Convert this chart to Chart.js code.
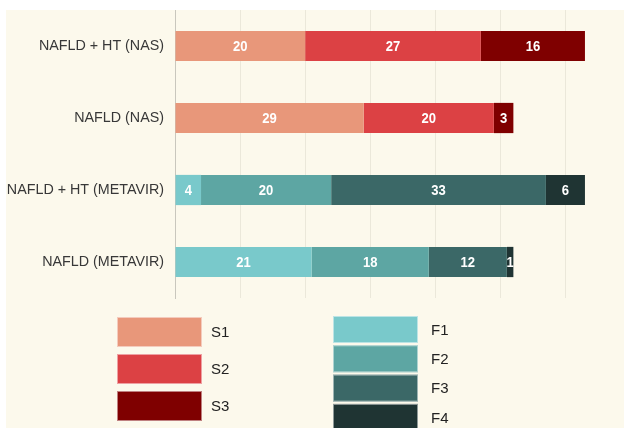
<!DOCTYPE html>
<html>
<head>
<meta charset="utf-8">
<script src="https://cdn.jsdelivr.net/npm/chart.js@4"></script>
<style>
  html, body { margin: 0; padding: 0; background: #ffffff; }
  #wrap { position: relative; width: 624px; height: 428px; }
</style>
</head>
<body>
<div id="wrap"><canvas id="stageChart" width="624" height="428"></canvas></div>
<script>
// --- DATA ---
const categories = ['NAFLD + HT (NAS)', 'NAFLD (NAS)', 'NAFLD + HT (METAVIR)', 'NAFLD (METAVIR)'];
const s1 = [20, 29, null, null];
const s2 = [27, 20, null, null];
const s3 = [16, 3, null, null];
const f1 = [null, null, 4, 21];
const f2 = [null, null, 20, 18];
const f3 = [null, null, 33, 12];
const f4 = [null, null, 6, 1];
const seriesNames = ['S1', 'S2', 'S3', 'F1', 'F2', 'F3', 'F4'];
const seriesValues = [s1, s2, s3, f1, f2, f3, f4];
const seriesColors = ['#e8977a', '#dc4144', '#7f0000', '#79c9cb', '#5da6a3', '#3b6867', '#1f3433'];

// cream panel behind everything
const panelBg = {
    id: 'panelBg',
    beforeDraw(chart) {
        const c = chart.ctx;
        c.save();
        c.fillStyle = '#fcf9ec';
        c.fillRect(6, 10, chart.width - 6, chart.height - 10);
        c.restore();
    }
};

// value labels in the middle of each segment (narrow bold look)
const barValues = {
    id: 'barValues',
    afterDatasetsDraw(chart) {
        const c = chart.ctx;
        chart.data.datasets.forEach((ds, i) => {
            chart.getDatasetMeta(i).data.forEach((bar, j) => {
                const v = ds.data[j];
                if (v === null || v === undefined) return;
                const p = bar.getProps(['x', 'y', 'base'], true);
                c.save();
                c.translate((p.x + p.base) / 2, p.y + 1);
                c.scale(0.9, 1);
                c.fillStyle = '#ffffff';
                c.font = "bold 14.5px 'Liberation Sans', Arial, sans-serif";
                c.textAlign = 'center';
                c.textBaseline = 'middle';
                c.fillText(String(v), 0, 0);
                c.restore();
            });
        });
    }
};

// two-column legend under the plot
const blockLegend = {
    id: 'blockLegend',
    afterDraw(chart) {
        const c = chart.ctx;
        c.save();
        c.font = "15px 'Liberation Sans', Arial, sans-serif";
        c.textBaseline = 'middle';
        c.textAlign = 'left';
        const cols = [
            { idx: [0, 1, 2], x: 117, y: 317, h: 30, step: 37, tx: 211 },
            { idx: [3, 4, 5, 6], x: 333, y: 316, h: 27, step: 29.3, tx: 431 }
        ];
        cols.forEach(col => {
            col.idx.forEach((di, k) => {
                const ds = chart.data.datasets[di];
                const y = col.y + k * col.step;
                c.fillStyle = ds.backgroundColor;
                c.fillRect(col.x, y, 85, col.h);
                c.strokeStyle = 'rgba(255,255,255,0.5)';
                c.lineWidth = 1;
                c.strokeRect(col.x + 0.5, y + 0.5, 84, col.h - 1);
                c.fillStyle = '#222222';
                c.fillText(ds.label, col.tx, y + col.h / 2 + 1);
            });
        });
        c.restore();
    }
};

new Chart(document.getElementById('stageChart'), {
    type: 'bar',
    data: {
        labels: categories,
        datasets: seriesNames.map((name, i) => ({
            label: name,
            data: seriesValues[i],
            backgroundColor: seriesColors[i],
            borderWidth: 0,
            barPercentage: 0.42,
            categoryPercentage: 1
        }))
    },
    options: {
        indexAxis: 'y',
        responsive: false,
        animation: false,
        layout: { padding: { top: 10, bottom: 130, left: 0, right: 0 } },
        scales: {
            x: {
                stacked: true,
                min: 0,
                max: 69,
                ticks: { display: false, stepSize: 10, includeBounds: false },
                grid: { color: '#ebe8da', lineWidth: 1, drawTicks: false },
                border: { display: false },
                afterFit(scale) { scale.height = 0; scale.paddingLeft = 0; scale.paddingRight = 0; }
            },
            y: {
                stacked: true,
                grid: { display: false, drawTicks: false },
                border: { display: true, color: '#c9c7bd', width: 1 },
                ticks: {
                    color: '#383838',
                    padding: 11,
                    font: { family: "'Liberation Sans', Arial, sans-serif", size: 14.3 }
                },
                afterFit(scale) { scale.width = 175; scale.paddingTop = 0; scale.paddingBottom = 0; }
            }
        },
        plugins: {
            legend: { display: false },
            tooltip: { enabled: false }
        }
    },
    plugins: [panelBg, barValues, blockLegend]
});
</script>
</body>
</html>
